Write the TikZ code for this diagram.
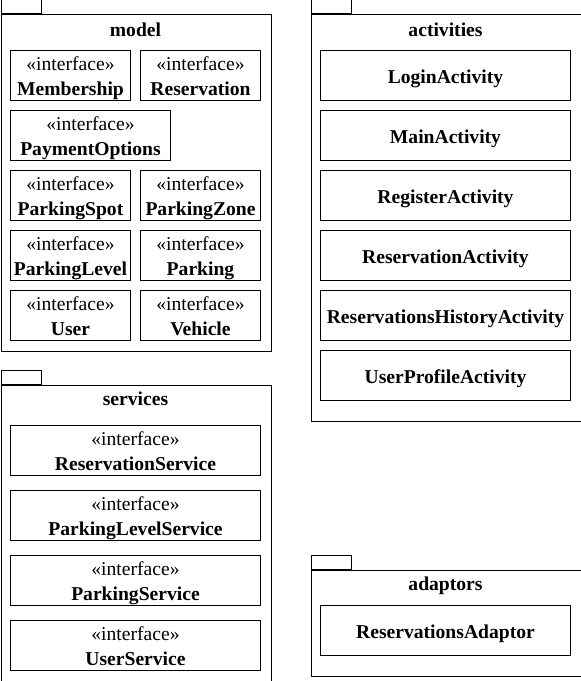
\documentclass[tikz,border=0pt]{standalone}
\usepackage{fontspec}
\setmainfont{Liberation Serif}
\newcommand{\ifacetext}[1]{\rule{0pt}{14.4pt}«interface»\\\textbf{#1}\rule[-3.5pt]{0pt}{3.5pt}}
\begin{document}
\begin{tikzpicture}[x=0.75pt, y=-0.75pt, line width=0.75pt,
    font=\fontsize{14.7}{18.4}\selectfont,
    pkgbody/.style={draw, anchor=north west, inner sep=0pt},
    pkgtab/.style={draw, anchor=south west, inner sep=0pt, minimum width=30pt, minimum height=10.5pt},
    pkgtitle/.style={anchor=base, font=\fontsize{14.7}{18.4}\selectfont\bfseries},
    iface/.style={draw, align=center, inner sep=0pt, minimum height=37.5pt},
    cls/.style={draw, inner sep=0pt, minimum height=37.5pt, minimum width=187.5pt,
      text height=15pt, text depth=3.4pt,
      font=\fontsize{14.7}{18.4}\selectfont\bfseries}]
  \useasboundingbox (-0.5,-0.5) rectangle (580.5,680.5);

  % packages
  \foreach \name/\x/\y/\w/\h/\ty in {
    model/0/14/270/336/36, activities/310/14/270/406/36,
    services/0/384/270/296/405, adaptors/310/569/270/106/590} {
    \node[pkgbody, minimum width=\w*0.75pt, minimum height=\h*0.75pt] (\name) at (\x,\y) {};
    \node[pkgtab] (\name-tab) at (\name.north west) {};
    \node[pkgtitle] (\name-title) at (\x+135,\ty) {\name};
  }

  % model interfaces
  \foreach \cname/\x/\y/\w in {
    Membership/70/75/120, Reservation/200/75/120, PaymentOptions/90/135/160,
    ParkingSpot/70/195/120, ParkingZone/200/195/120,
    ParkingLevel/70/255/120, Parking/200/255/120,
    User/70/315/120, Vehicle/200/315/120}
    \node[iface, minimum width=\w*0.75pt] (\cname) at (\x,\y) {\ifacetext{\cname}};

  % services interfaces
  \foreach \cname/\y in {
    ReservationService/450, ParkingLevelService/515,
    ParkingService/580, UserService/645}
    \node[iface, minimum width=187.5pt] (\cname) at (135,\y) {\ifacetext{\cname}};

  % activities
  \foreach \cname/\y in {
    LoginActivity/75, MainActivity/135, RegisterActivity/195,
    ReservationActivity/255, ReservationsHistoryActivity/315, UserProfileActivity/375}
    \node[cls] (\cname) at (445,\y) {\cname};

  % adaptors
  \node[cls] (ReservationsAdaptor) at (445,630) {ReservationsAdaptor};
\end{tikzpicture}
\end{document}
